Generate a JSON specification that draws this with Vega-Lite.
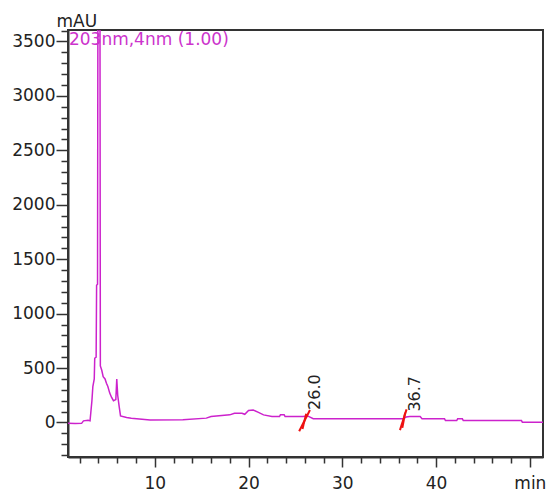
{
  "$schema": "https://vega.github.io/schema/vega-lite/v6.json",
  "width": 475,
  "height": 427,
  "autosize": {"type": "none"},
  "padding": {"left": 68, "top": 30, "right": 3, "bottom": 34},
  "background": "white",
  "config": {
    "view": {"stroke": "#333333", "strokeWidth": 2},
    "axis": {
      "labelFont": "DejaVu Sans", "labelFontSize": 17, "labelColor": "#222222",
      "domainColor": "#333333", "domainWidth": 2,
      "tickColor": "#333333", "tickWidth": 1.5, "grid": false,
      "titleFont": "DejaVu Sans", "titleFontSize": 17, "titleFontWeight": "normal", "titleColor": "#222222"
    }
  },
  "datasets": {
    "trace": [
      {"t": 0.75, "v": -8}, {"t": 1.5, "v": -10}, {"t": 2.2, "v": -8}, {"t": 2.4, "v": 15},
      {"t": 2.9, "v": 20}, {"t": 3.1, "v": 15}, {"t": 3.3, "v": 200}, {"t": 3.4, "v": 330},
      {"t": 3.55, "v": 400}, {"t": 3.6, "v": 590}, {"t": 3.75, "v": 600}, {"t": 3.8, "v": 1260},
      {"t": 3.9, "v": 1270}, {"t": 3.95, "v": 4500}, {"t": 4.15, "v": 4500}, {"t": 4.2, "v": 520},
      {"t": 4.35, "v": 480}, {"t": 4.5, "v": 420}, {"t": 4.7, "v": 400}, {"t": 4.85, "v": 360},
      {"t": 5.0, "v": 330}, {"t": 5.2, "v": 270}, {"t": 5.4, "v": 230}, {"t": 5.6, "v": 200},
      {"t": 5.85, "v": 210}, {"t": 5.95, "v": 400}, {"t": 6.05, "v": 250}, {"t": 6.2, "v": 150},
      {"t": 6.35, "v": 60}, {"t": 7.0, "v": 45}, {"t": 7.5, "v": 38}, {"t": 9.5, "v": 22},
      {"t": 13.0, "v": 25}, {"t": 15.5, "v": 40}, {"t": 16.0, "v": 55}, {"t": 18.0, "v": 70},
      {"t": 18.5, "v": 85}, {"t": 19.3, "v": 85}, {"t": 19.6, "v": 75}, {"t": 20.0, "v": 110},
      {"t": 20.5, "v": 115}, {"t": 21.0, "v": 95}, {"t": 21.6, "v": 70}, {"t": 22.5, "v": 55},
      {"t": 23.3, "v": 55}, {"t": 23.4, "v": 70}, {"t": 23.8, "v": 70}, {"t": 23.9, "v": 55},
      {"t": 25.8, "v": 55}, {"t": 26.3, "v": 60}, {"t": 26.9, "v": 34}, {"t": 36.5, "v": 34},
      {"t": 36.8, "v": 50}, {"t": 37.2, "v": 55}, {"t": 38.3, "v": 55}, {"t": 38.5, "v": 34},
      {"t": 40.9, "v": 34}, {"t": 41.0, "v": 18}, {"t": 42.2, "v": 18}, {"t": 42.3, "v": 34},
      {"t": 42.8, "v": 34}, {"t": 42.9, "v": 18}, {"t": 49.1, "v": 18}, {"t": 49.2, "v": 3},
      {"t": 51.4, "v": 3}
    ],
    "markers": [
      {"t": 25.4, "v": -80, "t2": 26.55, "v2": 115},
      {"t": 25.75, "v": -60, "t2": 26.15, "v2": 80},
      {"t": 36.15, "v": -70, "t2": 36.85, "v2": 120},
      {"t": 36.4, "v": -50, "t2": 36.7, "v2": 90}
    ],
    "peaks": [
      {"t": 26.0, "v": 115, "label": "26.0"},
      {"t": 36.7, "v": 100, "label": "36.7"}
    ],
    "heading": [
      {"t": 0.85, "v": 3590, "label": "203nm,4nm (1.00)"}
    ]
  },
  "layer": [
    {
      "data": {"name": "trace"},
      "mark": {"type": "line", "color": "#cc22cc", "strokeWidth": 1.5, "clip": true},
      "encoding": {
        "x": {
          "field": "t", "type": "quantitative",
          "scale": {"domain": [0.75, 51.4], "nice": false, "zero": false},
          "axis": {
            "title": null,
            "tickCount": 200,
            "format": "d",
            "values": [2, 4, 6, 8, 10, 12, 14, 16, 18, 20, 22, 24, 26, 28, 30, 32, 34, 36, 38, 40, 42, 44, 46, 48, 50],
            "labelExpr": "datum.value == 50 ? 'min' : (datum.value % 10 === 0 ? datum.label : '')",
            "tickSize": {"condition": {"test": "datum.value % 10 === 0", "value": 10}, "value": 6},
            "labelPadding": 8,
            "labelFlush": false,
            "labelOverlap": false
          }
        },
        "y": {
          "field": "v", "type": "quantitative",
          "scale": {"domain": [-317, 3605], "nice": false, "zero": false},
          "axis": {
            "title": "mAU",
            "titleAngle": 0, "titleAlign": "left", "titleBaseline": "alphabetic",
            "titleX": -12, "titleY": -4,
            "tickCount": 200,
            "values": [-300, -200, -100, 0, 100, 200, 300, 400, 500, 600, 700, 800, 900, 1000, 1100, 1200, 1300, 1400, 1500, 1600, 1700, 1800, 1900, 2000, 2100, 2200, 2300, 2400, 2500, 2600, 2700, 2800, 2900, 3000, 3100, 3200, 3300, 3400, 3500, 3600],
            "format": "d",
            "labelExpr": "datum.value % 500 === 0 ? datum.label : ''",
            "tickSize": {"condition": {"test": "datum.value % 500 === 0", "value": 12}, "value": 7},
            "labelPadding": 1,
            "labelFlush": false,
            "labelOverlap": false
          }
        }
      }
    },
    {
      "data": {"name": "markers"},
      "mark": {"type": "rule", "color": "#ee1111", "strokeWidth": 2},
      "encoding": {
        "x": {"field": "t", "type": "quantitative"},
        "y": {"field": "v", "type": "quantitative"},
        "x2": {"field": "t2"},
        "y2": {"field": "v2"}
      }
    },
    {
      "data": {"name": "peaks"},
      "mark": {"type": "text", "angle": 270, "align": "left", "baseline": "top", "dy": 2, "font": "DejaVu Sans", "fontSize": 16, "color": "#222222"},
      "encoding": {
        "x": {"field": "t", "type": "quantitative"},
        "y": {"field": "v", "type": "quantitative"},
        "text": {"field": "label", "type": "nominal"}
      }
    },
    {
      "data": {"name": "heading"},
      "mark": {"type": "text", "align": "left", "baseline": "top", "font": "DejaVu Sans", "fontSize": 17, "color": "#cc33cc"},
      "encoding": {
        "x": {"field": "t", "type": "quantitative"},
        "y": {"field": "v", "type": "quantitative"},
        "text": {"field": "label", "type": "nominal"}
      }
    }
  ]
}
